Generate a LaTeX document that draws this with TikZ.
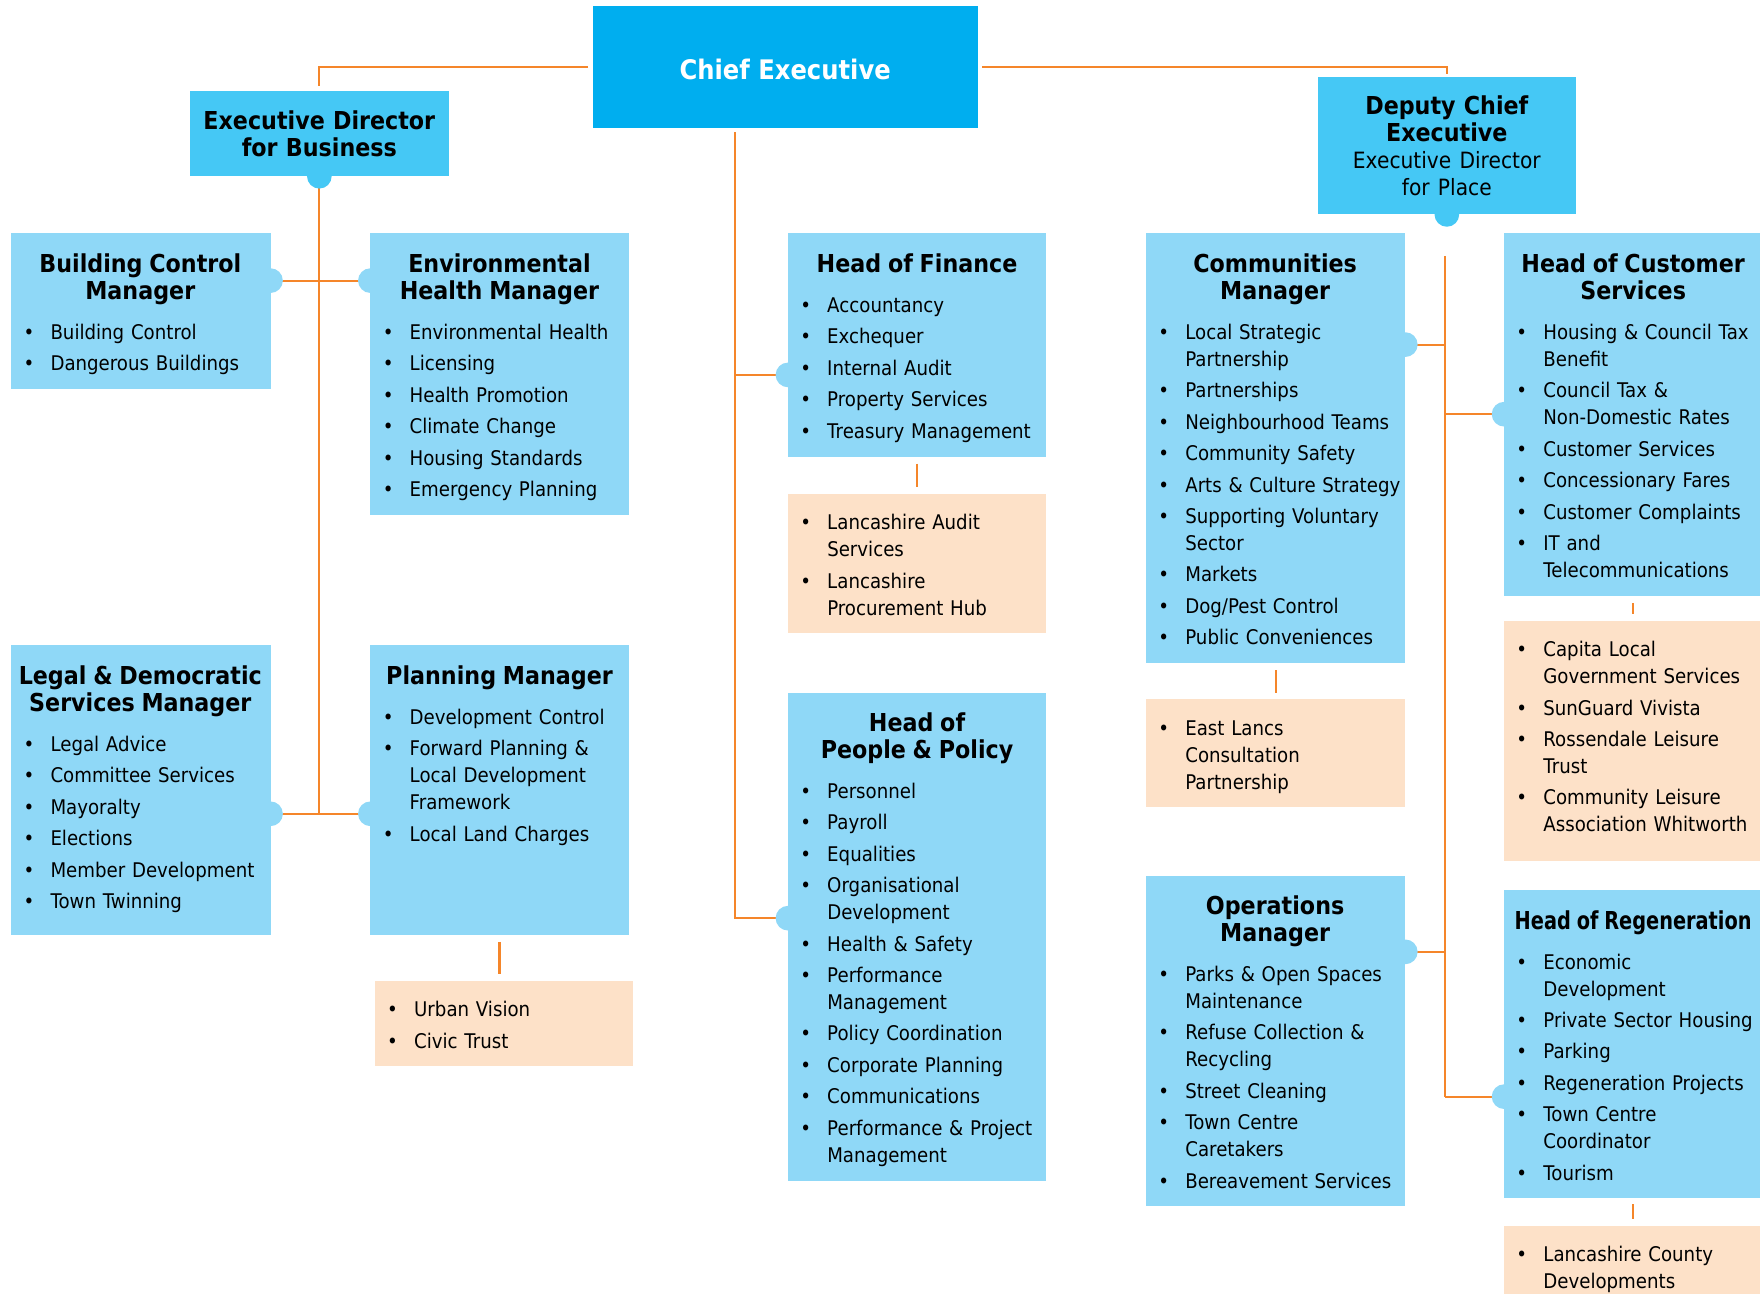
\documentclass[tikz,border=0pt]{standalone}
\usepackage{fontspec}
\setmainfont{DejaVu Sans}[FakeStretch=0.9]
\usepackage{graphicx}
\usetikzlibrary{fit}
\definecolor{ceoc}{HTML}{00AEEF}
\definecolor{midc}{HTML}{45C8F5}
\definecolor{lightc}{HTML}{8FD8F7}
\definecolor{peach}{HTML}{FDE1C8}
\definecolor{orng}{HTML}{F5862A}
\newcommand\hd[1]{{\centering\bfseries\fontsize{11}{12}\selectfont #1\par}\vspace{3.7pt}}
\newcommand\bi[1]{\mbox{}\hspace*{5.5pt}\makebox[12pt][l]{\textbullet}\begin{tabular}[t]{@{}l@{}}#1\end{tabular}\par}
\tikzset{
  lbox/.style={fill=lightc, inner sep=0pt, outer sep=0pt},
  pbox/.style={fill=peach, inner sep=0pt, outer sep=0pt},
  mbox/.style={fill=midc, inner sep=0pt, outer sep=0pt, anchor=north west, text width=#1, align=center, font=\bfseries\fontsize{11}{12}\selectfont},
  ceobox/.style={fill=ceoc, inner sep=0pt, outer sep=0pt, anchor=north west, text=white, font=\bfseries\fontsize{12}{14}\selectfont},
  txt/.style={anchor=base west, inner sep=0pt, outer sep=0pt, text width=115pt, align=left, font=\fontsize{9}{12}\selectfont, execute at begin node={\setlength{\parskip}{2pt}\setlength{\lineskip}{0pt}}},
  conn/.style={draw=orng, line width=0.9pt},
  gap/.style={shorten <=3pt, shorten >=3pt}
}
\begin{document}
\begin{tikzpicture}[x=0.5pt,y=-0.5pt]
\useasboundingbox (0,0) rectangle (1568,1152);
\clip (0,0) rectangle (1568,1152);
% top level
\node[ceobox, minimum width=171.5pt, minimum height=54.5pt, text height=12pt, text depth=1pt] (ceo) at (528,5) {Chief Executive};
\node[mbox=115.5pt, minimum width=115.5pt, minimum height=38pt] (edb) at (169,81) {Executive Director\\for Business};
\node[mbox=115pt, minimum width=115pt, minimum height=61pt] (dce) at (1174,69) {{Deputy Chief\\Executive\par}\mdseries\fontsize{10}{12}\selectfont Executive Director\\for Place};
% boxes
\node[lbox, fit={(10,208) (241,347)}] (bc) {};
\node[lbox, fit={(330,208) (560,459)}] (eh) {};
\node[lbox, fit={(10,575) (241,833)}] (ldm) {};
\node[lbox, fit={(330,575) (560,833)}] (pm) {};
\node[pbox, fit={(334,874) (564,950)}] (uv) {};
\node[lbox, fit={(702,208) (932,407)}] (hof) {};
\node[pbox, fit={(702,440) (932,564)}] (las) {};
\node[lbox, fit={(702,617) (932,1052)}] (hpp) {};
\node[lbox, fit={(1021,208) (1252,591)}] (cm) {};
\node[pbox, fit={(1021,623) (1252,719)}] (elc) {};
\node[lbox, fit={(1021,780) (1252,1074)}] (om) {};
\node[lbox, fit={(1340,208) (1570,531)}] (hcs) {};
\node[pbox, fit={(1340,553) (1570,767)}] (cap) {};
\node[lbox, fit={(1340,793) (1570,1067)}] (hr) {};
\node[pbox, fit={(1340,1092) (1570,1170)}] (lcd) {};
% knob points
\coordinate (edbK) at (edb.south);
\coordinate (dceK) at (dce.south);
\coordinate (bcK) at (241,250);
\coordinate (ehK) at (330,250);
\coordinate (ldmK) at (241,725);
\coordinate (pmK) at (330,725);
\coordinate (hofK) at (702,334);
\coordinate (hppK) at (702,818);
\coordinate (cmK) at (1252,307);
\coordinate (hcsK) at (1340,369);
\coordinate (omK) at (1252,848);
\coordinate (hrK) at (1340,977);
\coordinate (ceoV) at (655,118);
\coordinate (dceV) at (1287,228);
% connectors
\draw[conn, shorten <=2pt, shorten >=2pt] (ceo.west) -| (edb.north);
\draw[conn, shorten <=2pt, shorten >=1.5pt] (ceo.east) -| (dce.north);
\draw[conn] (ceoV) |- (hppK);
\draw[conn] (ceoV |- hofK) -- (hofK);
\draw[conn] (edbK) -- (edbK |- ldmK);
\draw[conn] (bcK) -- (ehK);
\draw[conn] (ldmK) -- (pmK);
\draw[conn] (dceV) -- (dceV |- hrK);
\draw[conn] (cmK) -- (cmK -| dceV);
\draw[conn] (hcsK) -- (hcsK -| dceV);
\draw[conn] (omK) -- (omK -| dceV);
\draw[conn] (hrK) -- (hrK -| dceV);
\draw[conn, gap] (hof.south) -- (las.north);
\draw[conn, gap] (pm.south) -- (pm.south |- uv.north);
\draw[conn, gap] (cm.south) -- (elc.north);
\draw[conn, gap] (hcs.south) -- (cap.north);
\draw[conn, gap] (hr.south) -- (lcd.north);
% knobs
\fill[midc] (edbK) circle (5.5pt);
\fill[midc] (dceK) circle (5.5pt);
\foreach \k in {bcK,ehK,ldmK,pmK,hofK,hppK,cmK,hcsK,omK,hrK} \fill[lightc] (\k) circle (5.5pt);
% texts
\node[txt] (bc-t) at ([yshift=-17.5pt]bc.north west) {\hd{Building Control\\Manager}\bi{Building Control}\bi{Dangerous Buildings}};
\node[txt] (eh-t) at ([yshift=-17.5pt]eh.north west) {\hd{Environmental\\Health Manager}\bi{Environmental Health}\bi{Licensing}\bi{Health Promotion}\bi{Climate Change}\bi{Housing Standards}\bi{Emergency Planning}};
\node[txt] (ldm-t) at ([yshift=-17.5pt]ldm.north west) {\hd{Legal \& Democratic\\Services Manager}\bi{Legal Advice}\bi{Committee Services}\bi{Mayoralty}\bi{Elections}\bi{Member Development}\bi{Town Twinning}};
\node[txt] (pm-t) at ([yshift=-17.5pt]pm.north west) {\hd{Planning Manager}\bi{Development Control}\bi{Forward Planning \&\\Local Development\\Framework}\bi{Local Land Charges}};
\node[txt] (uv-t) at ([yshift=-16pt]uv.north west) {\bi{Urban Vision}\bi{Civic Trust}};
\node[txt] (hof-t) at ([yshift=-17.5pt]hof.north west) {\hd{Head of Finance}\bi{Accountancy}\bi{Exchequer}\bi{Internal Audit}\bi{Property Services}\bi{Treasury Management}};
\node[txt] (las-t) at ([yshift=-16pt]las.north west) {\bi{Lancashire Audit\\Services}\bi{Lancashire\\Procurement Hub}};
\node[txt] (hpp-t) at ([yshift=-17.5pt]hpp.north west) {\hd{Head of\\People \& Policy}\bi{Personnel}\bi{Payroll}\bi{Equalities}\bi{Organisational\\Development}\bi{Health \& Safety}\bi{Performance\\Management}\bi{Policy Coordination}\bi{Corporate Planning}\bi{Communications}\bi{Performance \& Project\\Management}};
\node[txt] (cm-t) at ([yshift=-17.5pt]cm.north west) {\hd{Communities\\Manager}\bi{Local Strategic\\Partnership}\bi{Partnerships}\bi{Neighbourhood Teams}\bi{Community Safety}\bi{Arts \& Culture Strategy}\bi{Supporting Voluntary\\Sector}\bi{Markets}\bi{Dog/Pest Control}\bi{Public Conveniences}};
\node[txt] (elc-t) at ([yshift=-16pt]elc.north west) {\bi{East Lancs\\Consultation\\Partnership}};
\node[txt] (om-t) at ([yshift=-17.5pt]om.north west) {\hd{Operations\\Manager}\bi{Parks \& Open Spaces\\Maintenance}\bi{Refuse Collection \&\\Recycling}\bi{Street Cleaning}\bi{Town Centre\\Caretakers}\bi{Bereavement Services}};
\node[txt] (hcs-t) at ([yshift=-17.5pt]hcs.north west) {\hd{Head of Customer\\Services}\bi{Housing \& Council Tax\\Benefit}\bi{Council Tax \&\\Non-Domestic Rates}\bi{Customer Services}\bi{Concessionary Fares}\bi{Customer Complaints}\bi{IT and\\Telecommunications}};
\node[txt] (cap-t) at ([yshift=-16pt]cap.north west) {\bi{Capita Local\\Government Services}\bi{SunGuard Vivista}\bi{Rossendale Leisure\\Trust}\bi{Community Leisure\\Association Whitworth}};
\node[txt] (hr-t) at ([yshift=-17.5pt]hr.north west) {\hd{\scalebox{0.87}[1]{Head of Regeneration}}\bi{Economic\\Development}\bi{Private Sector Housing}\bi{Parking}\bi{Regeneration Projects}\bi{Town Centre\\Coordinator}\bi{Tourism}};
\node[txt] (lcd-t) at ([yshift=-16pt]lcd.north west) {\bi{Lancashire County\\Developments}};
\end{tikzpicture}
\end{document}
